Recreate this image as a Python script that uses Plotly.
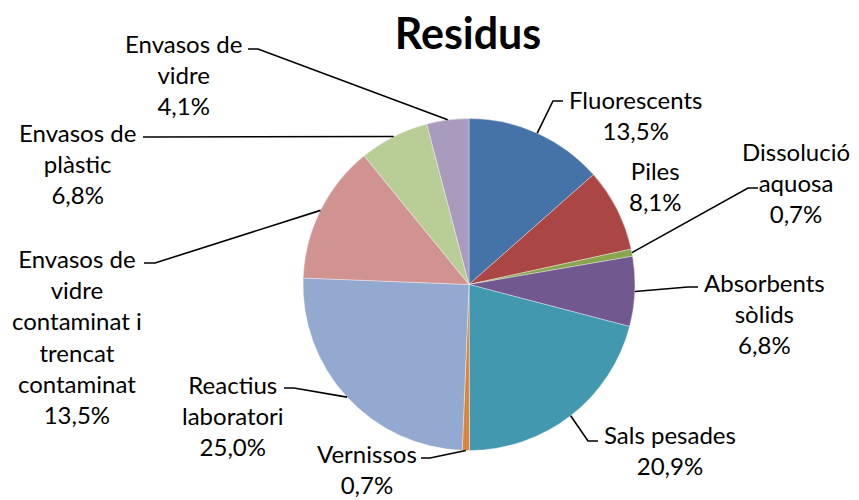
import math
import plotly.graph_objects as go

# ---- data ----
categories = ["Fluorescents", "Piles", "Dissolució aquosa", "Absorbents sòlids",
              "Sals pesades", "Vernissos", "Reactius laboratori",
              "Envasos de vidre contaminat i trencat contaminat",
              "Envasos de plàstic", "Envasos de vidre"]
values = [13.5, 8.1, 0.7, 6.8, 20.9, 0.7, 25.0, 13.5, 6.8, 4.1]
label_lines = [["Fluorescents"], ["Piles"], ["Dissolució", "aquosa"], ["Absorbents", "sòlids"],
               ["Sals pesades"], ["Vernissos"], ["Reactius", "laboratori"],
               ["Envasos de", "vidre", "contaminat i", "trencat", "contaminat"],
               ["Envasos de", "plàstic"], ["Envasos de", "vidre"]]
colors = ["#4572A7", "#AA4643", "#89A54E", "#71588F", "#4198AF",
          "#DB843D", "#93A9CF", "#D19392", "#B9CD96", "#A99BBD"]

# ---- layout (page pixels; the page body adds an 8px margin) ----
OFF = 8
W, H = 859 - OFF, 500 - OFF
CX, CY, R = 469, 284.5, 166
label_pos = [(635, 115), (655, 186), (796, 182), (764, 313), (670, 450),
             (367, 469), (233, 415), (77, 336), (77, 163), (183, 74)]
# elbow / end points of leader lines (None = no leader line)
leader_pts = [[(553, 101), (563, 101)], None, [(748, 188), (758, 188)],
              [(688, 287), (698, 287)], [(588, 441), (598, 441)],
              [(430, 458), (421, 458)], [(294, 388), (284, 388)],
              [(155, 263), (144, 263)], [(153, 137), (143, 137)],
              [(258, 49), (248, 49)]]


def px(x, y):
    return (x - OFF) / W, 1 - (y - OFF) / H


FONT = "Lato, 'Open Sans', sans-serif"

x0, y1 = px(CX - R, CY - R)
x1, y0 = px(CX + R, CY + R)
fig = go.Figure(go.Pie(
    labels=categories, values=values, sort=False, direction="clockwise", rotation=0,
    marker=dict(colors=colors, line=dict(color="rgba(255,255,255,0.6)", width=0.6)),
    textinfo="none", hoverinfo="label+percent", showlegend=False,
    domain=dict(x=[x0, x1], y=[y0, y1]),
))

total = sum(values)
shapes = []
annotations = []
cum = 0.0
for i, v in enumerate(values):
    mid = (cum + v / 2) / total * 2 * math.pi
    cum += v
    ex, ey = CX + R * math.sin(mid), CY - R * math.cos(mid)
    pct = f"{v / total * 100:.1f}".replace(".", ",") + "%"
    text = "<br>".join(label_lines[i] + [pct])
    ax, ay = px(*label_pos[i])
    annotations.append(dict(text=text, x=ax, y=ay, xref="paper", yref="paper",
                            xanchor="center", yanchor="middle", showarrow=False,
                            align="center", font=dict(family=FONT, size=24, color="#000000")))
    if leader_pts[i]:
        pts = [(ex, ey)] + leader_pts[i]
        path = "M " + " L ".join(f"{px(x, y)[0]},{px(x, y)[1]}" for x, y in pts)
        shapes.append(dict(type="path", path=path, xref="paper", yref="paper",
                           line=dict(color="#000000", width=1.6)))

tx, ty = px(468, 34)
fig.update_layout(
    width=W, height=H, margin=dict(l=0, r=0, t=0, b=0),
    paper_bgcolor="#FFFFFF", plot_bgcolor="#FFFFFF",
    title=dict(text="<b>Residus</b>", x=tx, xanchor="center", y=ty,
               yanchor="middle", yref="container",
               font=dict(family=FONT, size=43, color="#000000")),
    shapes=shapes, annotations=annotations,
)

fig.write_html("out.html")
